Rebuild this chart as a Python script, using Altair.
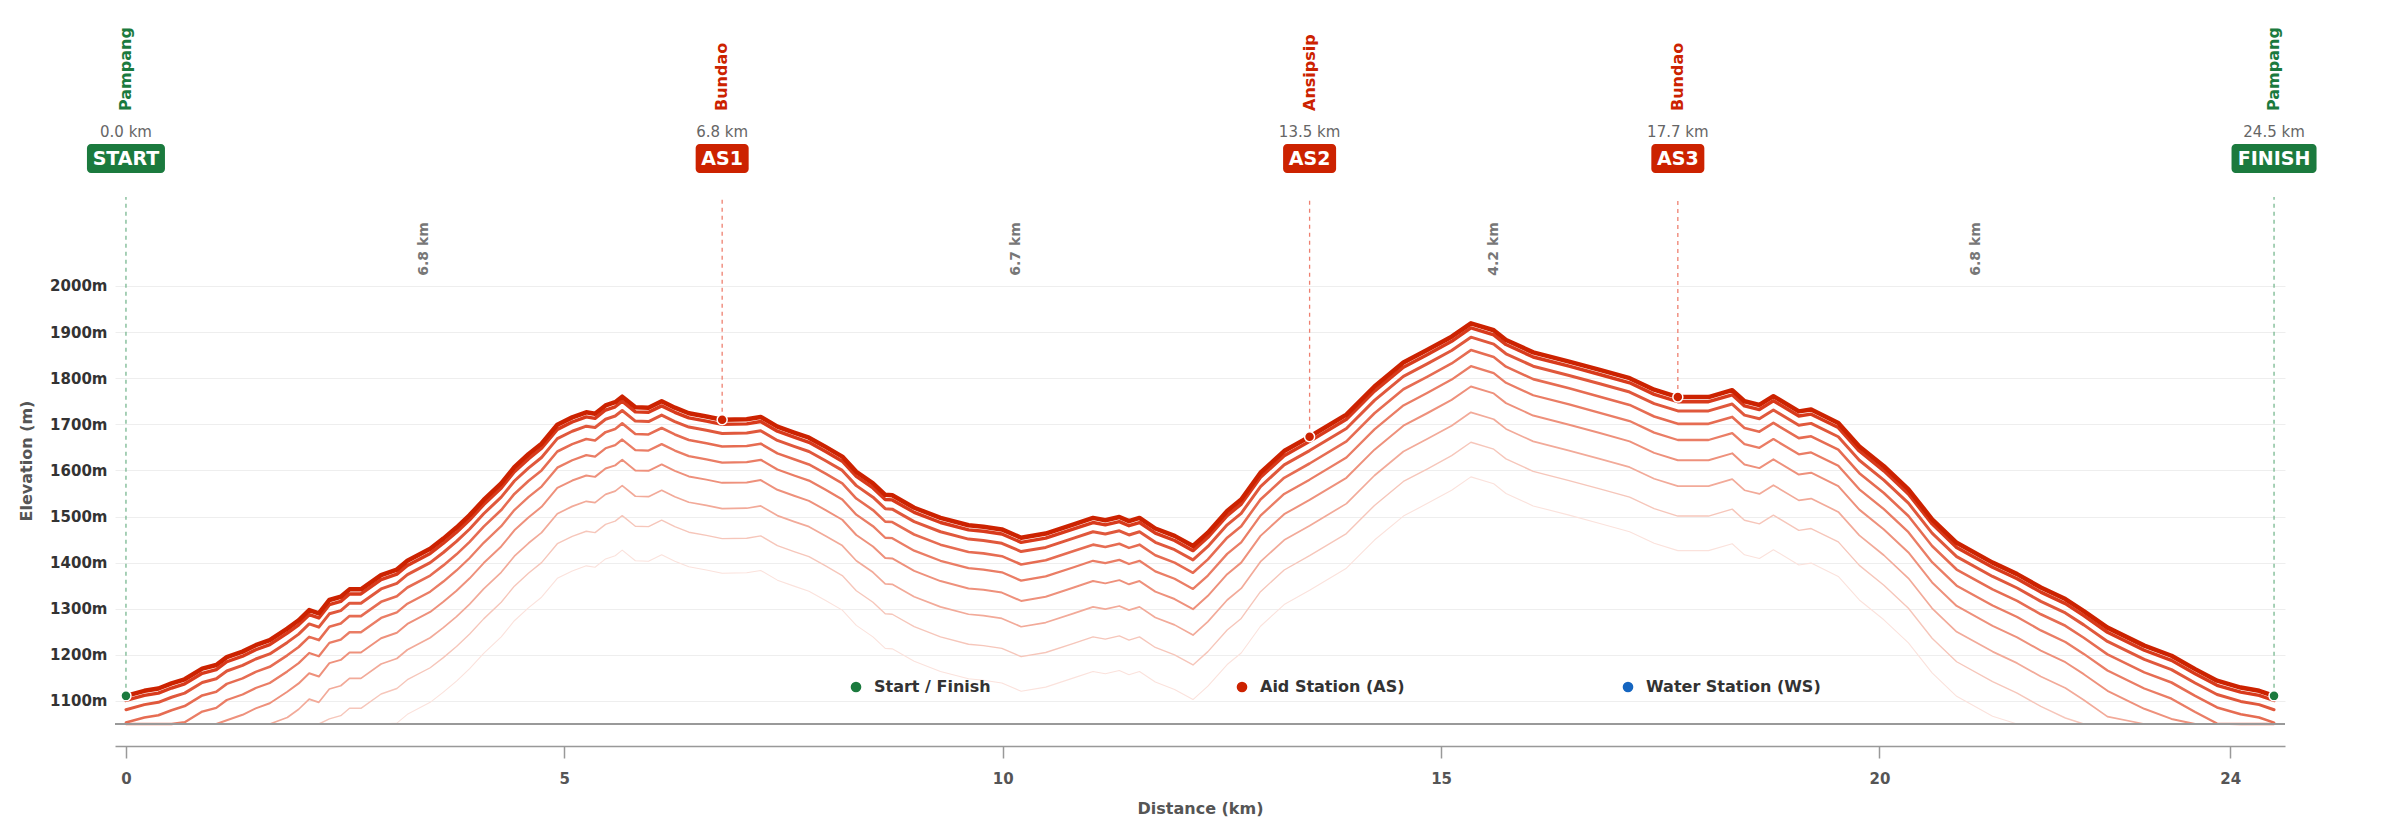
import altair as alt
import pandas as pd

# ---------------- data ----------------
profile_km = [0.0, 0.21, 0.37, 0.52, 0.67, 0.87, 1.03, 1.15, 1.33, 1.48, 1.64, 1.84, 1.97, 2.09, 2.20,
              2.32, 2.45, 2.55, 2.68, 2.91, 3.09, 3.21, 3.47, 3.62, 3.77, 3.92, 4.08, 4.28, 4.43, 4.59,
              4.74, 4.92, 5.09, 5.25, 5.35, 5.47, 5.58, 5.66, 5.81, 5.96, 6.11, 6.26, 6.42, 6.62, 6.8,
              7.08, 7.24, 7.43, 7.62, 7.79, 7.98, 8.17, 8.33, 8.52, 8.66, 8.74, 8.99, 9.29, 9.61, 9.78,
              9.99, 10.21, 10.49, 10.81, 11.03, 11.17, 11.33, 11.44, 11.56, 11.74, 11.96, 12.17, 12.34,
              12.56, 12.72, 12.94, 13.21, 13.5, 13.92, 14.24, 14.57, 14.84, 15.12, 15.34, 15.60, 15.74,
              16.05, 16.46, 16.81, 17.15, 17.43, 17.7, 18.05, 18.32, 18.46, 18.63, 18.79, 19.08, 19.22,
              19.53, 19.77, 20.05, 20.33, 20.60, 20.88, 21.29, 21.57, 21.84, 22.12, 22.33, 22.60, 23.02,
              23.33, 23.60, 23.85, 24.12, 24.33, 24.5]
profile_elev = [1111, 1122, 1127, 1138, 1147, 1170, 1178, 1195, 1207, 1221, 1232, 1257, 1275, 1297, 1290,
                1319, 1326, 1342, 1342, 1373, 1385, 1404, 1430, 1452, 1476, 1503, 1536, 1572, 1607, 1635,
                1658, 1699, 1715, 1726, 1723, 1741, 1748, 1760, 1737, 1736, 1750, 1736, 1724, 1717, 1710,
                1711, 1716, 1695, 1682, 1671, 1651, 1630, 1597, 1572, 1547, 1546, 1519, 1497, 1481, 1478,
                1472, 1454, 1463, 1483, 1497, 1492, 1499, 1490, 1497, 1474, 1458, 1436, 1465,
                1512, 1537, 1595, 1642, 1673, 1721, 1782, 1834, 1861, 1890, 1919, 1904, 1883,
                1856, 1836, 1818, 1800, 1775, 1759, 1759, 1774, 1750, 1742, 1761, 1728, 1732,
                1703, 1652, 1609, 1559, 1494, 1443, 1400, 1375, 1346, 1321, 1295, 1259, 1220,
                1198, 1169, 1144, 1129, 1122, 1111]

station_km = [0.0, 6.8, 13.5, 17.7, 24.5]
station_elev = [1111, 1710, 1673, 1759, 1111]
station_code = ["START", "AS1", "AS2", "AS3", "FINISH"]
station_name = ["Pampang", "Bundao", "Ansipsip", "Bundao", "Pampang"]
station_type = ["Start / Finish", "Aid Station (AS)", "Aid Station (AS)", "Aid Station (AS)", "Start / Finish"]

legend_types = ["Start / Finish", "Aid Station (AS)", "Water Station (WS)"]
y_ticks = [1100, 1200, 1300, 1400, 1500, 1600, 1700, 1800, 1900, 2000]
x_ticks = [0, 5, 10, 15, 20, 24]

# ---------------- styles ----------------
TYPE_COLOR = {"Start / Finish": "#1b7a3e", "Aid Station (AS)": "#cc2200", "Water Station (WS)": "#1565c0"}
RULE_COLOR = {"Start / Finish": "#78b890", "Aid Station (AS)": "#ee8070"}
BADGE_W = {"START": 78, "AS1": 53, "AS2": 53, "AS3": 53, "FINISH": 85}
SHADOW_OFFSETS = [333, 258, 193, 137, 93, 58, 30, 10, 0]
SHADOW_COLORS = ["#fbe2dc", "#f6c6ba", "#f2aa99", "#ee917c", "#ea7d65", "#e66c52", "#e0583c", "#d83a1c", "#cc2200"]
SHADOW_WIDTHS = [1.1, 1.4, 1.7, 2.0, 2.3, 2.6, 3.0, 3.4, 4.5]
FONT = "DejaVu Sans"

profile = pd.DataFrame({"km": profile_km, "elev": profile_elev})
stations = pd.DataFrame({"km": station_km, "elev": station_elev, "code": station_code,
                         "name": station_name, "type": station_type})
stations["km_label"] = stations["km"].map(lambda v: f"{v:.1f} km")
seg = pd.DataFrame({
    "km": [(a + b) / 2 for a, b in zip(station_km[:-1], station_km[1:])],
    "label": [f"{b - a:.1f} km" for a, b in zip(station_km[:-1], station_km[1:])],
})

xscale = alt.Scale(domain=[-0.125, 24.625], nice=False, zero=False, padding=0)
yscale = alt.Scale(domain=[1050, 2193], nice=False, zero=False, clamp=True, padding=0)

xaxis = alt.Axis(values=x_ticks, title="Distance (km)", offset=22, grid=False, format="d",
                 domainColor="#999999", domainWidth=1.5, tickColor="#999999", tickWidth=1.5, tickSize=12,
                 labelFontSize=15, labelFontWeight="bold", labelColor="#555555", labelPadding=13,
                 labelFlush=False, titleFontSize=16, titleFontWeight="bold", titleColor="#555555",
                 titlePadding=14)
yaxis = alt.Axis(values=y_ticks, labelExpr="datum.value + 'm'", title="Elevation (m)", grid=True,
                 gridColor="#eeeeee", gridWidth=1, domain=False, ticks=False, labelFontSize=15,
                 labelFontWeight="bold", labelColor="#333333", labelPadding=8, titleFontSize=16,
                 titleFontWeight="bold", titleColor="#555555", titlePadding=15)


def X():
    return alt.X("km:Q", scale=xscale, axis=xaxis, title="Distance (km)")


def Y(field):
    return alt.Y(field, scale=yscale, axis=yaxis, title="Elevation (m)")


layers = []

# station dashed rules
for t in ["Start / Finish", "Aid Station (AS)"]:
    layers.append(
        alt.Chart(stations).transform_filter(alt.datum.type == t)
        .mark_rule(color=RULE_COLOR[t], strokeDash=[4, 4], strokeWidth=1.3)
        .encode(x=X(), y=Y("elev:Q"), y2=alt.value(0))
    )

# elevation profile with stacked shadow copies
for off, col, w in zip(SHADOW_OFFSETS, SHADOW_COLORS, SHADOW_WIDTHS):
    layers.append(
        alt.Chart(profile).transform_calculate(e=f"datum.elev - {off}")
        .mark_line(color=col, strokeWidth=w, strokeJoin="round", strokeCap="round")
        .encode(x=X(), y=Y("e:Q"))
    )

# baseline
layers.append(
    alt.Chart(profile).mark_rule(color="#999999", strokeWidth=2)
    .encode(y=alt.datum(1050, scale=yscale, axis=yaxis, title="Elevation (m)"))
)

# station points (with legend)
layers.append(
    alt.Chart(stations).mark_circle(size=100, opacity=1, stroke="white", strokeWidth=1.5)
    .encode(
        x=X(), y=Y("elev:Q"),
        color=alt.Color("type:N",
                        scale=alt.Scale(domain=legend_types, range=[TYPE_COLOR[t] for t in legend_types]),
                        legend=alt.Legend(title=None, orient="none", legendX=733, legendY=482,
                                          direction="horizontal", columns=3, gridAlign="all",
                                          columnPadding=185, symbolType="circle", symbolSize=113,
                                          symbolStrokeWidth=0, symbolOpacity=1, labelFontSize=16,
                                          labelFontWeight="bold", labelColor="#333333", labelOffset=10,
                                          labelFont=FONT, labelLimit=400, padding=0)),
    )
)

# station annotations above the plot
for code, t in zip(station_code, station_type):
    base = alt.Chart(stations).transform_filter(alt.datum.code == code)
    col = TYPE_COLOR[t]
    layers.append(
        base.mark_text(angle=270, align="left", baseline="middle", fontSize=16, fontWeight="bold",
                       color=col, font=FONT)
        .encode(x=X(), y=alt.value(-86), text="name:N")
    )
    layers.append(
        base.mark_text(align="center", baseline="middle", fontSize=15, color="#666666", font=FONT)
        .encode(x=X(), y=alt.value(-65), text="km_label:N")
    )
    layers.append(
        base.mark_bar(orient="vertical", width=BADGE_W[code], cornerRadius=4, color=col)
        .encode(x=X(), y=alt.value(-53), y2=alt.value(-24))
    )
    layers.append(
        base.mark_text(align="center", baseline="middle", fontSize=19, fontWeight="bold",
                       color="white", font=FONT)
        .encode(x=X(), y=alt.value(-38), text="code:N")
    )

# segment distance labels
layers.append(
    alt.Chart(seg).mark_text(angle=270, align="center", baseline="middle", fontSize=14,
                             fontWeight="bold", color="#777777", font=FONT)
    .encode(x=X(), y=alt.value(52), text="label:N")
)

chart = alt.layer(*layers).properties(
    width=2170, height=527,
    autosize=alt.AutoSizeParams(type="none"),
    padding={"left": 107, "top": 189, "right": 107, "bottom": 93},
).configure(font=FONT).configure_view(stroke=None)

chart.save("out.html", embed_options={"renderer": "svg", "actions": False})
